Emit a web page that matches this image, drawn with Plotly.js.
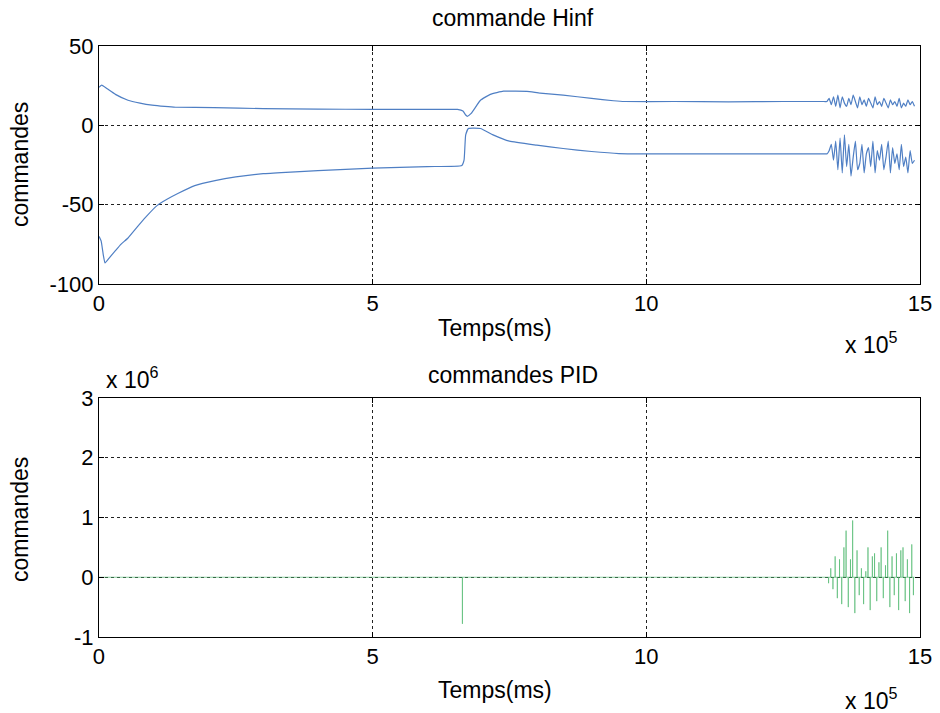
<!DOCTYPE html>
<html>
<head>
<meta charset="utf-8">
<script src="https://cdn.plot.ly/plotly-3.0.1.min.js"></script>
<style>
  html, body { margin: 0; padding: 0; background: #fff; }
  #chart { width: 940px; height: 713px; }
</style>
</head>
<body>
<div id="chart"></div>
<script>
// Time axis values are in units of 10^5 ms; PID commands in units of 10^6.

// H-infinity command, upper channel
const hinfTimeA = [0, 0.05, 0.15, 0.3, 0.53, 0.75, 0.97, 1.2, 1.4, 2.1, 3.0, 4.0, 5.0, 6.0, 6.55, 6.65, 6.7, 6.73, 6.8, 6.97, 7.15, 7.39, 7.6, 7.82, 8.06, 8.48, 9.0, 9.4, 9.6, 10.5, 11.5, 12.5, 13.25];
const hinfValA  = [24, 25.3, 23, 19.5, 15.8, 14, 12.7, 11.9, 11.4, 11.2, 10.5, 10.2, 10.1, 10, 10, 9, 6.5, 5.7, 7.5, 15.8, 19.5, 21.5, 21.5, 21.4, 20.3, 19, 17, 15.5, 15, 15, 14.8, 15, 15];

// H-infinity command, lower channel
const hinfTimeB = [0, 0.04, 0.08, 0.11, 0.2, 0.3, 0.4, 0.53, 0.7, 0.85, 1.06, 1.25, 1.44, 1.75, 2.12, 2.5, 3.0, 3.5, 4.0, 5.0, 6.0, 6.63, 6.67, 6.7, 6.75, 6.97, 7.2, 7.5, 8.0, 8.48, 9.0, 9.5, 10.0, 11.5, 13.25];
const hinfValB  = [-70, -73, -82, -86.7, -83, -79, -75, -71, -64, -58, -50.6, -46.5, -43, -38, -34.8, -32.5, -30.5, -29.5, -28.5, -27, -26, -25.3, -22, -6, -2, -2, -6, -10, -12.5, -14.6, -16.5, -17.8, -18, -18, -18];

// Oscillating tail of both H-infinity channels
const hinfTimeTail = [13.30, 13.34, 13.38, 13.42, 13.46, 13.50, 13.54, 13.58, 13.62, 13.66, 13.70, 13.74, 13.78, 13.82, 13.86, 13.90, 13.94, 13.98, 14.02, 14.06, 14.10, 14.14, 14.18, 14.22, 14.26, 14.30, 14.34, 14.38, 14.42, 14.46, 14.50, 14.54, 14.58, 14.62, 14.66, 14.70, 14.74, 14.78, 14.82, 14.86, 14.90];
const hinfTailA = [15, 17, 13, 18, 12, 19, 11, 18, 14, 12, 17, 13, 19, 15, 11, 18, 13, 16, 12, 17, 14, 11, 18, 13, 15, 12, 17, 14, 11, 16, 13, 15, 12, 17, 11, 14, 12, 16, 13, 15, 12];
const hinfTailB = [-18, -16, -12, -22, -10, -28, -8, -30, -6, -26, -12, -32, -20, -10, -28, -24, -12, -30, -18, -14, -26, -10, -30, -16, -22, -12, -28, -20, -10, -30, -14, -24, -18, -28, -12, -26, -20, -30, -16, -24, -22];

// PID command: flat at zero apart from short impulses
const pidSpikeTime = [6.64, 13.33, 13.37, 13.41, 13.45, 13.49, 13.53, 13.57, 13.61, 13.65, 13.69, 13.73, 13.77, 13.81, 13.85, 13.89, 13.93, 13.97, 14.01, 14.05, 14.09, 14.13, 14.17, 14.21, 14.25, 14.29, 14.33, 14.37, 14.41, 14.45, 14.49, 14.53, 14.57, 14.61, 14.65, 14.69, 14.73, 14.77, 14.81, 14.85, 14.88];
const pidSpikeVal  = [-0.78, -0.1, 0.15, -0.2, 0.35, -0.35, 0.3, -0.45, 0.5, 0.78, -0.5, 0.3, 0.95, -0.6, 0.45, -0.3, 0.15, -0.45, 0.1, 0.5, -0.55, 0.35, 0.4, -0.4, 0.25, 0.5, -0.35, 0.2, 0.78, -0.5, 0.35, -0.3, 0.4, -0.55, 0.45, 0.5, -0.4, 0.3, -0.6, 0.55, -0.3];
const pidEndTime = 14.9;

const xTicks = [0, 5, 10, 15];
const hinfTicks = [-100, -50, 0, 50];
const pidTicks = [-1, 0, 1, 2, 3];

const blue = '#4f7fc4';
const green = 'rgba(80,185,110,0.65)';
const font = 'Liberation Sans, Arial, sans-serif';
const tickFont = { family: font, size: 22, color: '#000' };

// each impulse is drawn as a vertical stroke from the zero baseline
const pidX = [0], pidY = [0];
pidSpikeTime.forEach((t, i) => {
  pidX.push(t, t, t);
  pidY.push(0, pidSpikeVal[i], 0);
});
pidX.push(pidEndTime);
pidY.push(0);

const traces = [
  { x: hinfTimeA.concat(hinfTimeTail), y: hinfValA.concat(hinfTailA), xaxis: 'x', yaxis: 'y',
    mode: 'lines', line: { color: blue, width: 1.2, shape: 'spline', smoothing: 0.4 }, hoverinfo: 'skip' },
  { x: hinfTimeB.concat(hinfTimeTail), y: hinfValB.concat(hinfTailB), xaxis: 'x', yaxis: 'y',
    mode: 'lines', line: { color: blue, width: 1.2, shape: 'spline', smoothing: 0.4 }, hoverinfo: 'skip' },
  { x: pidX, y: pidY, xaxis: 'x2', yaxis: 'y2',
    mode: 'lines', line: { color: green, width: 1 }, hoverinfo: 'skip' }
];

function xAxis(anchor) {
  return {
    domain: [0.1053, 0.9787], anchor: anchor, range: [0, 15],
    tickvals: xTicks, ticktext: xTicks.map(String),
    showline: true, mirror: 'ticks', linecolor: '#000', linewidth: 1,
    ticks: 'inside', ticklen: 5, tickcolor: '#000',
    showgrid: true, gridcolor: '#222', griddash: 'dot', gridwidth: 1,
    zeroline: false, tickfont: tickFont
  };
}
function yAxis(anchor, domain, range, ticks) {
  return {
    domain: domain, anchor: anchor, range: range,
    tickvals: ticks, ticktext: ticks.map(String),
    showline: true, mirror: 'ticks', linecolor: '#000', linewidth: 1,
    ticks: 'inside', ticklen: 5, tickcolor: '#000',
    showgrid: true, gridcolor: '#222', griddash: 'dot', gridwidth: 1,
    zeroline: false, tickfont: tickFont
  };
}

const textFont = { family: font, size: 23, color: '#000' };

// Text labels placed in pixel coordinates (centre of each label)
function label(text, px, py, angle) {
  return {
    text: text, x: px / 940, y: 1 - py / 713, xref: 'paper', yref: 'paper',
    xanchor: 'center', yanchor: 'middle', textangle: angle || 0,
    showarrow: false, font: textFont
  };
}

const layout = {
  width: 940, height: 713,
  margin: { l: 0, r: 0, t: 0, b: 0 },
  paper_bgcolor: '#fff', plot_bgcolor: '#fff',
  showlegend: false,
  xaxis: xAxis('y'),
  yaxis: yAxis('x', [0.6017, 0.9355], [-100, 50], hinfTicks),
  xaxis2: xAxis('y2'),
  yaxis2: yAxis('x2', [0.1066, 0.4418], [-1, 3], pidTicks),
  annotations: [
    label('commande Hinf', 513, 18),
    label('commandes PID', 513, 375),
    label('Temps(ms)', 495, 328),
    label('Temps(ms)', 495, 690),
    label('x 10<sup>5</sup>', 871, 343),
    label('x 10<sup>5</sup>', 871, 699),
    label('x 10<sup>6</sup>', 132, 378),
    label('commandes', 20, 165, -90),
    label('commandes', 20, 520, -90)
  ]
};

Plotly.newPlot('chart', traces, layout, { staticPlot: true, displayModeBar: false });
</script>
</body>
</html>
